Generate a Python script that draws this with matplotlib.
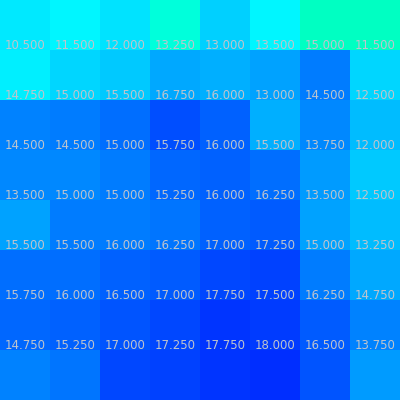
from matplotlib import pyplot as plt
from matplotlib.colors import LinearSegmentedColormap
import numpy as np

# grid values, one list per row (top to bottom)
row0 = [10.75, 10.25, 11.0, 8.5, 11.75, 10.25, 7.5, 7.5]
row1 = [10.5, 11.5, 12.0, 13.25, 13.0, 13.5, 15.0, 11.5]
row2 = [14.75, 15.0, 15.5, 16.75, 16.0, 13.0, 14.5, 12.5]
row3 = [14.5, 14.5, 15.0, 15.75, 16.0, 15.5, 13.75, 12.0]
row4 = [13.5, 15.0, 15.0, 15.25, 16.0, 16.25, 13.5, 12.5]
row5 = [15.5, 15.5, 16.0, 16.25, 17.0, 17.25, 15.0, 13.25]
row6 = [15.75, 16.0, 16.5, 17.0, 17.75, 17.5, 16.25, 14.75]
row7 = [14.75, 15.25, 17.0, 17.25, 17.75, 18.0, 16.5, 13.75]

data = np.array([row0, row1, row2, row3, row4, row5, row6, row7])

vmin, vmax = 7.5, 18.0
cmap = LinearSegmentedColormap.from_list(
    'aqua_blue',
    [(0.0, (0, 1.0, 0.76)), (0.229, (0, 1.0, 1.0)), (1.0, (0, 0.18, 1.0))])


def graficar():
    fig = plt.figure(figsize=(4, 4), dpi=100)
    ax = fig.add_axes([0, 0, 1, 1])
    ax.pcolormesh(data, cmap=cmap, vmin=vmin, vmax=vmax)
    ax.set_xlim(0, data.shape[1])
    ax.set_ylim(data.shape[0], 0)
    ax.axis('off')

    # labels sit on the top edge of their cell; the top row's fall outside the view
    for i in range(1, data.shape[0]):
        for j in range(data.shape[1]):
            ax.text(j + 0.5, i - 0.02, '%.3f' % data[i, j],
                    ha='center', va='baseline', fontsize=8.5,
                    color='#c0c4cc')

    fig.savefig('out.png', dpi=100)


graficar()
